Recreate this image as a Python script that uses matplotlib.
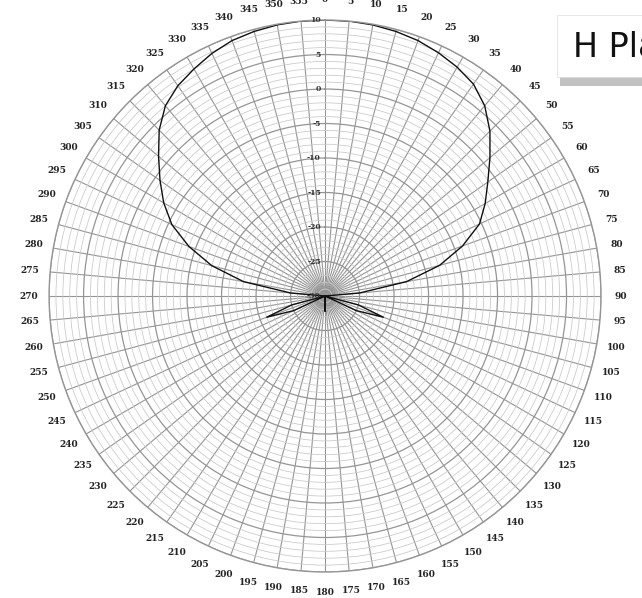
import numpy as np
import matplotlib
matplotlib.use("Agg")
import matplotlib.pyplot as plt
from matplotlib.patches import Rectangle

# ---- data (angle in degrees, gain in dB) ----
angles_deg = [0, 5, 10, 15, 20, 25, 30, 35, 40, 45, 50, 55, 60, 65, 70, 75, 80, 85,
              90, 95, 100, 105, 110, 115, 120, 125, 130, 135, 140, 145, 150, 155,
              160, 165, 170, 175, 180, 185, 190, 195, 200, 205, 210, 215, 220, 225,
              230, 235, 240, 245, 250, 255, 260, 265, 270, 275, 280, 285, 290, 295,
              300, 305, 310, 315, 320, 325, 330, 335, 340, 345, 350, 355, 360]
gain_db = [10.0, 10.0, 9.9, 9.7, 9.4, 8.9, 8.3, 7.5, 6.0, 3.8, 1.2, -1.2, -3.2, -5.3,
           -8.8, -12.8, -18.0, -25.0, -30, -30, -30, -25, -21, -25, -30, -30, -30,
           -30, -30, -30, -30, -30, -30, -30, -30, -30, -27.8, -30, -30, -30, -30,
           -30, -30, -30, -30, -30, -30, -30, -30, -25, -21, -25, -30, -30, -30,
           -25.0, -18.0, -13.0, -9.0, -5.5, -3.0, -0.8, 1.5, 4.0, 6.0, 7.2, 8.0,
           8.8, 9.4, 9.7, 9.9, 10.0, 10.0]

r_major = [-30, -25, -20, -15, -10, -5, 0, 5, 10]
r_labels = ["-30", "-25", "-20", "-15", "-10", "-5", "0", "5", "10"]
theta_ticks = list(range(0, 360, 5))
theta_labels = [str(a) for a in theta_ticks]
title_text = "H Plane"

fig = plt.figure(figsize=(6.42, 5.98), dpi=100)
fig.patch.set_facecolor("white")
ax = fig.add_axes([0.0763, 0.0435, 0.860, 0.923], projection="polar")
ax.set_theta_zero_location("N")
ax.set_theta_direction(-1)
ax.set_rlim(-30, 10)

ax.set_xticks(np.deg2rad(theta_ticks))
ax.set_xticklabels(theta_labels, fontsize=6.5, fontweight="bold",
                   family="DejaVu Serif", color="#222222")
ax.tick_params(axis="x", pad=4)

ax.set_yticks(r_major)
ax.set_yticklabels([])
ax.set_yticks(np.arange(-30, 11, 1), minor=True)
ax.yaxis.grid(True, which="major", color="#959595", lw=0.9)
ax.yaxis.grid(True, which="minor", color="#c8c8c8", lw=0.55)
ax.xaxis.grid(True, color="#959595", lw=0.8)
ax.spines["polar"].set_color("#959595")
ax.spines["polar"].set_linewidth(1.0)
ax.tick_params(axis="y", which="both", length=0)

for rv, lab in zip(r_major, r_labels):
    ax.annotate(lab, xy=(0, rv), xytext=(-3, 0), textcoords="offset points",
                ha="right", va="center", fontsize=5.5, family="DejaVu Serif",
                fontweight="bold", color="#333333")

ax.plot(np.deg2rad(angles_deg), gain_db, color="#111111", lw=1.0)

# title box (cropped at figure edge)
shadow = Rectangle((0.872, 0.857), 0.2, 0.105, transform=fig.transFigure,
                   facecolor="#9a9a9a", edgecolor="none", zorder=5, alpha=0.6)
box = Rectangle((0.8676, 0.872), 0.2, 0.103, transform=fig.transFigure,
                facecolor="white", edgecolor="#dddddd", lw=0.5, zorder=6)
fig.add_artist(shadow)
fig.add_artist(box)
fig.text(0.892, 0.921, title_text, fontsize=24,
         family=["Liberation Sans Narrow", "DejaVu Sans"], color="#111111",
         ha="left", va="center", zorder=7)

fig.savefig("out.png", dpi=100, facecolor="white")
